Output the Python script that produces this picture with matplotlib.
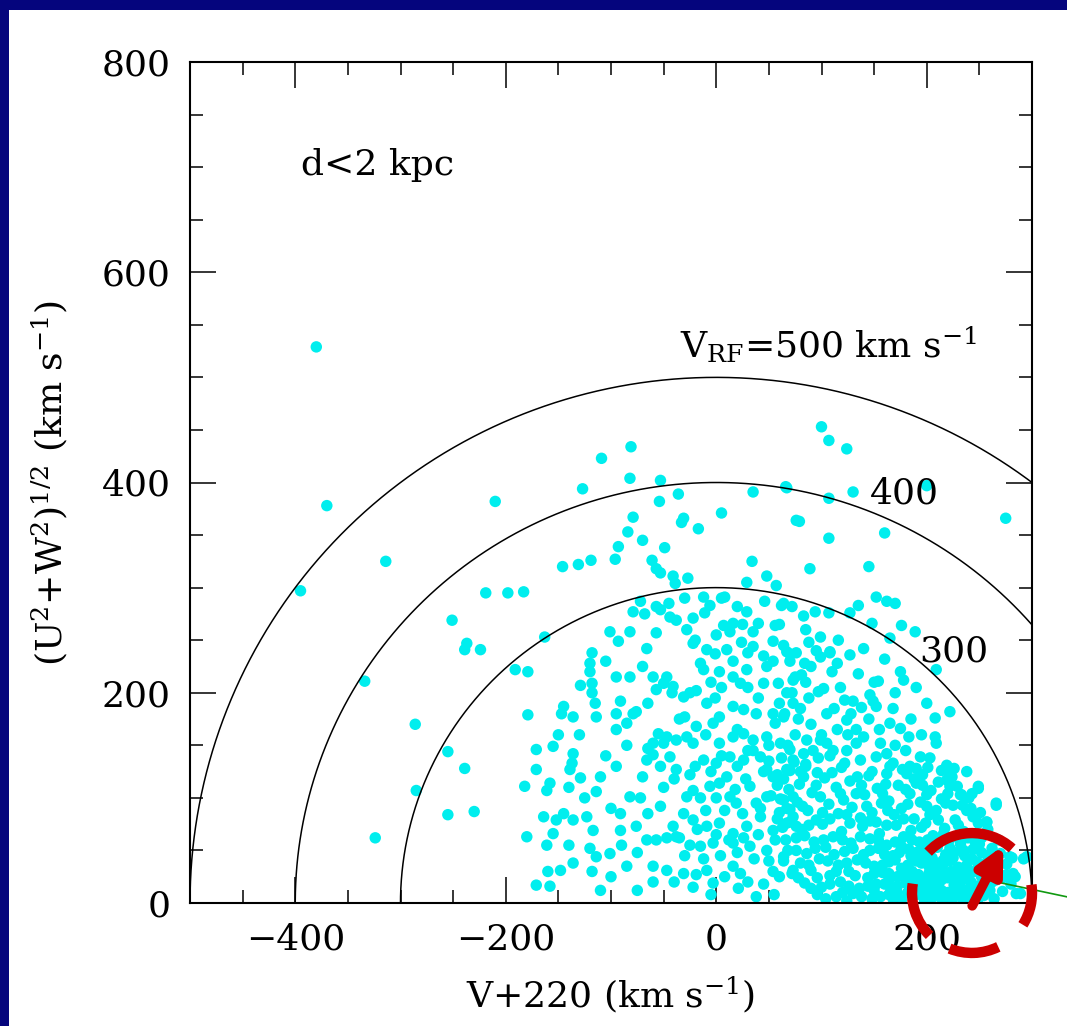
import numpy as np
import matplotlib
matplotlib.use("Agg")
import matplotlib.pyplot as plt
from matplotlib.patches import Rectangle, Arc

plt.rcParams['font.family'] = ['DejaVu Serif']
plt.rcParams['mathtext.fontset'] = 'dejavuserif'

# stars well outside the bulk (V+220, (U^2+W^2)^1/2), km/s
outer_pts = [(-380, 529), (-370, 378), (-314, 325), (-395, 297), (-334, 211), (-324, 62),
             (-286, 170), (-285, 107), (-255, 144), (-239, 128), (-255, 84), (-230, 87),
             (-210, 382), (-219, 295), (-198, 295), (-183, 296), (-251, 269), (-237, 247),
             (-224, 241), (-239, 241), (-163, 253), (-191, 222), (-179, 220),
             (-109, 423), (-82, 404), (-81, 434), (-53, 402), (-127, 394), (66, 396), (35, 391),
             (-36, 389), (-54, 382), (5, 371), (76, 364), (-31, 366), (-33, 362), (-79, 367),
             (-17, 356), (-84, 353), (-93, 339), (-70, 345), (-49, 338), (-96, 327), (-146, 320),
             (-131, 322), (-119, 326), (-61, 326), (-57, 318), (-53, 314), (34, 325), (-41, 311),
             (-27, 309), (-39, 304), (48, 311), (57, 302), (29, 305),
             (100, 453), (107, 440), (124, 432), (130, 391), (107, 385), (67, 395), (79, 363),
             (107, 347), (160, 352), (89, 318), (145, 320), (200, 397), (275, 366)]

# inside the 300 km/s circle, central part
mid_pts = [(-72, 287), (-57, 282), (-79, 277), (-68, 275), (-53, 279), (-44, 272), (-38, 269),
           (-12, 291), (8, 291), (-6, 283), (46, 287), (62, 283), (72, 282), (29, 277), (40, 266),
           (56, 264), (35, 258), (-11, 276), (-22, 271), (-28, 260), (7, 264), (13, 258), (16, 266),
           (-101, 258), (-82, 258), (-93, 249), (-66, 242), (-57, 257), (-22, 247), (-9, 241),
           (-1, 237), (10, 241), (24, 248), (35, 244), (16, 230), (54, 249), (67, 239), (76, 238),
           (54, 230), (-15, 228), (-12, 222), (3, 220), (16, 215), (29, 222), (23, 209), (30, 205),
           (48, 225), (45, 209), (59, 209), (73, 212), (67, 200), (-118, 238), (-120, 228),
           (-120, 220), (-118, 209), (-129, 207), (-118, 200), (-95, 215), (-82, 215), (-60, 215),
           (-47, 215), (-50, 209), (-41, 206), (-42, 200), (-31, 196), (-25, 200), (-19, 202),
           (-57, 203), (-1, 195), (-9, 190), (-91, 192), (-95, 180), (-85, 171), (-79, 180),
           (-95, 165), (-76, 182), (-145, 187), (-147, 180), (-136, 177), (-179, 179), (-114, 177),
           (-30, 177), (-19, 168), (-3, 171), (3, 177), (16, 187), (26, 184), (38, 180), (54, 180),
           (64, 177), (73, 190), (56, 171), (-55, 161), (-47, 158), (-50, 152), (-38, 155),
           (-60, 152), (-28, 158), (-22, 152), (3, 152), (16, 158), (26, 161), (35, 155), (48, 158),
           (61, 152), (70, 146), (-65, 147), (-60, 141), (-53, 130), (-44, 139), (-66, 136),
           (-38, 127), (-25, 122), (-12, 136), (0, 133), (13, 139), (26, 136), (42, 139), (48, 127),
           (54, 120), (67, 127), (73, 136), (-171, 146), (-155, 149), (-136, 142), (-137, 133),
           (-129, 119), (-171, 127), (-139, 127), (-158, 114), (-161, 107), (-114, 106), (-182, 111),
           (-6, 111), (3, 114), (13, 101), (19, 95), (32, 111), (48, 101), (64, 98), (70, 89),
           (-22, 107), (-28, 101), (-15, 100), (-82, 101), (-72, 100), (-76, 73), (-53, 92),
           (-41, 73), (-31, 85), (-22, 79), (-9, 73), (3, 76), (16, 66), (29, 73), (42, 82), (54, 69),
           (67, 76), (76, 73), (-164, 82), (-152, 79), (-145, 85), (-136, 79), (-123, 82), (-155, 66),
           (-161, 55), (-117, 69), (-91, 85), (-91, 69), (-180, 63), (-66, 60), (-57, 60), (-47, 62),
           (-38, 63), (-25, 55), (-15, 54), (-3, 57), (16, 57), (32, 54), (48, 50), (64, 44), (73, 31),
           (-148, 31), (-136, 38), (-118, 30), (-114, 44), (-101, 47), (-85, 35), (-60, 35),
           (-47, 31), (-31, 28), (-19, 27), (-9, 31), (16, 35), (23, 28), (54, 30), (-171, 17),
           (-158, 16), (-110, 12), (-3, 19), (21, 14),
           (5, 140), (20, 130), (35, 145), (50, 135), (-5, 125), (10, 120), (28, 118), (45, 125),
           (58, 112), (0, 100), (18, 108), (38, 95), (52, 102), (-10, 88), (8, 88), (25, 85),
           (42, 90), (58, 80), (-18, 70), (0, 65), (12, 60), (26, 62), (40, 65), (56, 60),
           (-30, 45), (-12, 42), (4, 45), (20, 48), (36, 42), (50, 40), (-40, 20), (-22, 15),
           (-5, 8), (8, 25), (30, 20), (45, 18), (60, 25), (38, 6), (55, 8), (-60, 20), (-75, 12),
           (-35, 62), (-65, 85), (-50, 110), (-40, 118), (-70, 120), (-20, 130), (-95, 130),
           (-105, 140), (-85, 150), (5, 290), (20, 282), (-30, 290), (-45, 285), (25, 265),
           (0, 255), (-20, 250), (45, 235), (30, 238), (5, 205), (-5, 210), (40, 195), (60, 190),
           (20, 165), (-10, 160), (30, 145), (50, 150), (-35, 175), (-65, 190), (-70, 225),
           (-105, 230), (-115, 190), (-130, 160), (-150, 160), (-110, 120), (-100, 90),
           (-125, 100), (-140, 110), (-160, 30), (-140, 55), (-120, 52), (-100, 25), (-75, 48),
           (-90, 55)]

# right-hand part, 60 < V+220 < 300
right_pts = [(209, 222), (178, 212), (154, 211), (200, 190), (222, 182), (208, 176), (208, 158),
             (209, 152), (194, 139), (219, 131), (222, 123), (219, 117), (249, 109), (233, 103),
             (266, 95), (225, 93), (238, 88), (257, 77), (200, 103), (190, 114), (181, 123),
             (165, 130), (156, 152), (162, 142), (175, 166), (183, 158), (165, 171), (168, 185),
             (152, 187), (146, 198), (149, 192), (127, 236), (108, 238), (99, 234), (84, 228),
             (81, 217), (97, 201), (102, 204), (122, 193), (130, 192), (124, 174), (133, 165),
             (140, 158), (133, 152), (124, 145), (111, 145), (105, 152), (99, 155), (92, 145),
             (86, 155), (83, 142), (152, 291), (162, 287), (170, 285), (135, 283), (127, 276),
             (94, 277), (83, 273), (107, 276), (176, 264), (189, 258), (99, 253), (64, 285),
             (148, 266), (165, 252), (108, 239), (70, 237), (64, 245), (70, 230), (75, 215),
             (90, 225), (95, 240), (110, 220), (118, 205), (88, 195), (72, 200), (65, 180),
             (78, 175), (90, 170), (105, 180), (115, 165), (128, 180), (100, 160), (75, 160),
             (68, 150), (85, 130), (279, 44), (295, 44), (282, 28), (289, 9), (266, 22),
             (281, 43), (292, 42), (276, 27), (284, 25), (285, 9), (266, 93), (257, 77),
             (240, 100), (249, 111), (222, 111), (232, 103),
             (88, 248), (116, 250), (140, 242), (160, 232), (175, 220), (190, 205), (115, 228),
             (135, 218), (150, 210), (170, 200), (185, 175), (195, 160), (180, 145), (145, 175),
             (125, 160), (112, 185), (138, 186), (155, 165), (170, 150), (190, 128), (85, 260),
             (60, 265), (85, 210), (80, 185), (80, 125)]

# crowded clump near the solar motion
core_pts = [(62, 138), (85, 132), (108, 140), (137, 136), (168, 133), (203, 138), (226, 128),
            (70, 126), (96, 124), (119, 129), (148, 125), (177, 127), (238, 125), (196, 122),
            (64, 118), (79, 113), (103, 119), (127, 116), (145, 121), (161, 113), (188, 118),
            (211, 115), (69, 108), (91, 105), (114, 110), (133, 104), (153, 109), (173, 112),
            (204, 107), (229, 111), (61, 99), (77, 96), (99, 101), (121, 98), (141, 103), (164, 97),
            (184, 104), (214, 99), (243, 104), (67, 90), (87, 88), (107, 94), (129, 91), (148, 86),
            (157, 95), (176, 90), (194, 96), (209, 88), (234, 93), (73, 82), (95, 79), (116, 85),
            (137, 81), (152, 77), (169, 84), (188, 80), (203, 84), (227, 79), (251, 86), (63, 72),
            (81, 70), (101, 75), (119, 68), (139, 73), (155, 66), (171, 74), (185, 69), (199, 76),
            (217, 71), (235, 68), (249, 76), (76, 62), (93, 58), (111, 63), (128, 57), (146, 61),
            (162, 55), (178, 63), (193, 58), (206, 64), (221, 59), (239, 62), (268, 60), (68, 50),
            (86, 47), (104, 53), (122, 49), (140, 46), (154, 52), (168, 45), (183, 51), (196, 47),
            (210, 53), (226, 48), (244, 51), (258, 45), (80, 38), (98, 42), (116, 36), (134, 41),
            (150, 35), (164, 39), (176, 33), (190, 40), (202, 35), (216, 41), (230, 34), (248, 39),
            (276, 37), (72, 28), (90, 31), (108, 26), (126, 30), (144, 24), (158, 29), (172, 25),
            (186, 30), (198, 23), (208, 29), (220, 24), (234, 29), (252, 25), (266, 30), (84, 19),
            (100, 15), (118, 20), (136, 14), (152, 18), (166, 13), (180, 19), (192, 14), (204, 18),
            (214, 12), (226, 17), (240, 13), (256, 18), (96, 8), (114, 6), (130, 9), (148, 4),
            (164, 8), (176, 3), (188, 7), (198, 2), (208, 8), (218, 4), (228, 9), (240, 5), (254, 7),
            (272, 11), (124, 2), (150, 12), (172, 16), (190, 22), (206, 20), (216, 27), (228, 22),
            (242, 20), (185, 45), (195, 38), (205, 43), (215, 36), (225, 43), (235, 50), (245, 30),
            (211, 17), (223, 30), (233, 21), (243, 42), (250, 56), (259, 33), (262, 20), (196, 55),
            (186, 22), (174, 48), (164, 28), (232, 56), (238, 7), (248, 16), (200, 12), (212, 60),
            (222, 52), (252, 62),
            (74, 134), (97, 138), (122, 133), (152, 139), (184, 130), (214, 126), (58, 122),
            (83, 120), (110, 124), (134, 120), (162, 123), (201, 129), (224, 120), (73, 101),
            (95, 112), (118, 104), (138, 112), (158, 104), (180, 108), (196, 112), (220, 104),
            (60, 86), (82, 92), (101, 86), (124, 84), (143, 92), (163, 88), (182, 94), (200, 92),
            (218, 95), (242, 90), (70, 77), (88, 74), (108, 80), (127, 76), (146, 78), (162, 74),
            (178, 80), (195, 72), (211, 79), (230, 74), (244, 82), (258, 70), (66, 60), (84, 64),
            (102, 60), (120, 60), (137, 63), (154, 60), (170, 58), (186, 60), (201, 60), (216, 66),
            (230, 62), (246, 58), (262, 52), (76, 50), (94, 52), (112, 46), (130, 52), (146, 50),
            (160, 46), (176, 54), (190, 48), (202, 50), (218, 46), (236, 45), (252, 48), (270, 47),
            (64, 40), (88, 36), (106, 40), (124, 38), (142, 38), (158, 36), (170, 41), (182, 36),
            (196, 42), (210, 38), (222, 40), (238, 36), (254, 37), (266, 42), (78, 24), (96, 24),
            (114, 30), (132, 26), (150, 28), (164, 22), (178, 27), (192, 27), (202, 28), (214, 22),
            (226, 28), (240, 26), (258, 28), (272, 24), (90, 14), (108, 18), (126, 16), (144, 16),
            (160, 18), (172, 10), (184, 14), (196, 18), (208, 14), (220, 10), (232, 14), (246, 10),
            (260, 12), (280, 18), (104, 4), (120, 10), (138, 6), (156, 6), (168, 4), (182, 10),
            (194, 8), (204, 4), (212, 6), (224, 2), (234, 4), (248, 2), (264, 4)]

arc_radii = [300, 400, 500]
arc_labels = [(193, 239, '300'), (146, 390, '400')]

fig = plt.figure(figsize=(10.67, 10.26), dpi=100)
fig.patch.set_facecolor('#05057d')
fig.add_artist(Rectangle((9 / 1067, 0), 1, 1 - 10 / 1026, transform=fig.transFigure,
                         facecolor='white', edgecolor='none', zorder=0))

ax = fig.add_axes([190 / 1067, 1 - 903 / 1026, 842 / 1067, 841 / 1026])
ax.set_facecolor('white')

for pts in (outer_pts, mid_pts, right_pts, core_pts):
    v, uw = zip(*pts)
    ax.scatter(v, uw, s=68, color='#00eeee', edgecolors='none', zorder=2)

theta = np.linspace(0, np.pi, 600)
for r in arc_radii:
    ax.plot(r * np.cos(theta), r * np.sin(theta), color='black', lw=1.1, zorder=3)

ax.set_xlim(-500, 300)
ax.set_ylim(0, 800)
ax.set_xticks([-400, -200, 0, 200])
ax.set_xticks(np.arange(-450, 300, 50), minor=True)
ax.set_yticks([0, 200, 400, 600, 800])
ax.set_yticks(np.arange(50, 800, 50), minor=True)
ax.tick_params(which='both', direction='in', top=True, right=True, width=1.1,
               labelsize=26, colors='black')
ax.tick_params(which='major', length=19, pad=14)
ax.tick_params(which='minor', length=9.5)
for sp in ax.spines.values():
    sp.set_linewidth(1.5)

ax.set_xlabel(r'V+220 (km s$^{-1}$)', fontsize=26)
ax.set_ylabel(r'(U$^2$+W$^2$)$^{1/2}$ (km s$^{-1}$)', fontsize=26)
ax.xaxis.set_label_coords(0.5, -0.085)
ax.yaxis.set_label_coords(-0.143, 0.5)

ax.text(-395, 702, 'd<2 kpc', fontsize=26, ha='left', va='center')
ax.text(-34, 531, r'V$_{\mathrm{RF}}$=500 km s$^{-1}$', fontsize=26, ha='left', va='center')
for x, y, s in arc_labels:
    ax.text(x, y, s, fontsize=26, ha='left', va='center', zorder=4)

# red highlight on the local clump
for t1, t2 in [(48, 137), (171, 225), (248, 296), (328, 368)]:
    ax.add_patch(Arc((243, 9.5), 114, 114, theta1=t1, theta2=t2, color='#cc0000',
                     lw=7.5, clip_on=False, zorder=6, capstyle='butt'))
ax.annotate('', xy=(274, 57), xytext=(242, -5), annotation_clip=False,
            arrowprops=dict(arrowstyle='-|>', color='#cc0000', lw=7, mutation_scale=40),
            zorder=6)
ax.plot([257, 334], [22, 5.7], color='#119911', lw=1.2, clip_on=False, zorder=5)

fig.savefig('out.png', dpi=100, facecolor=fig.get_facecolor())
